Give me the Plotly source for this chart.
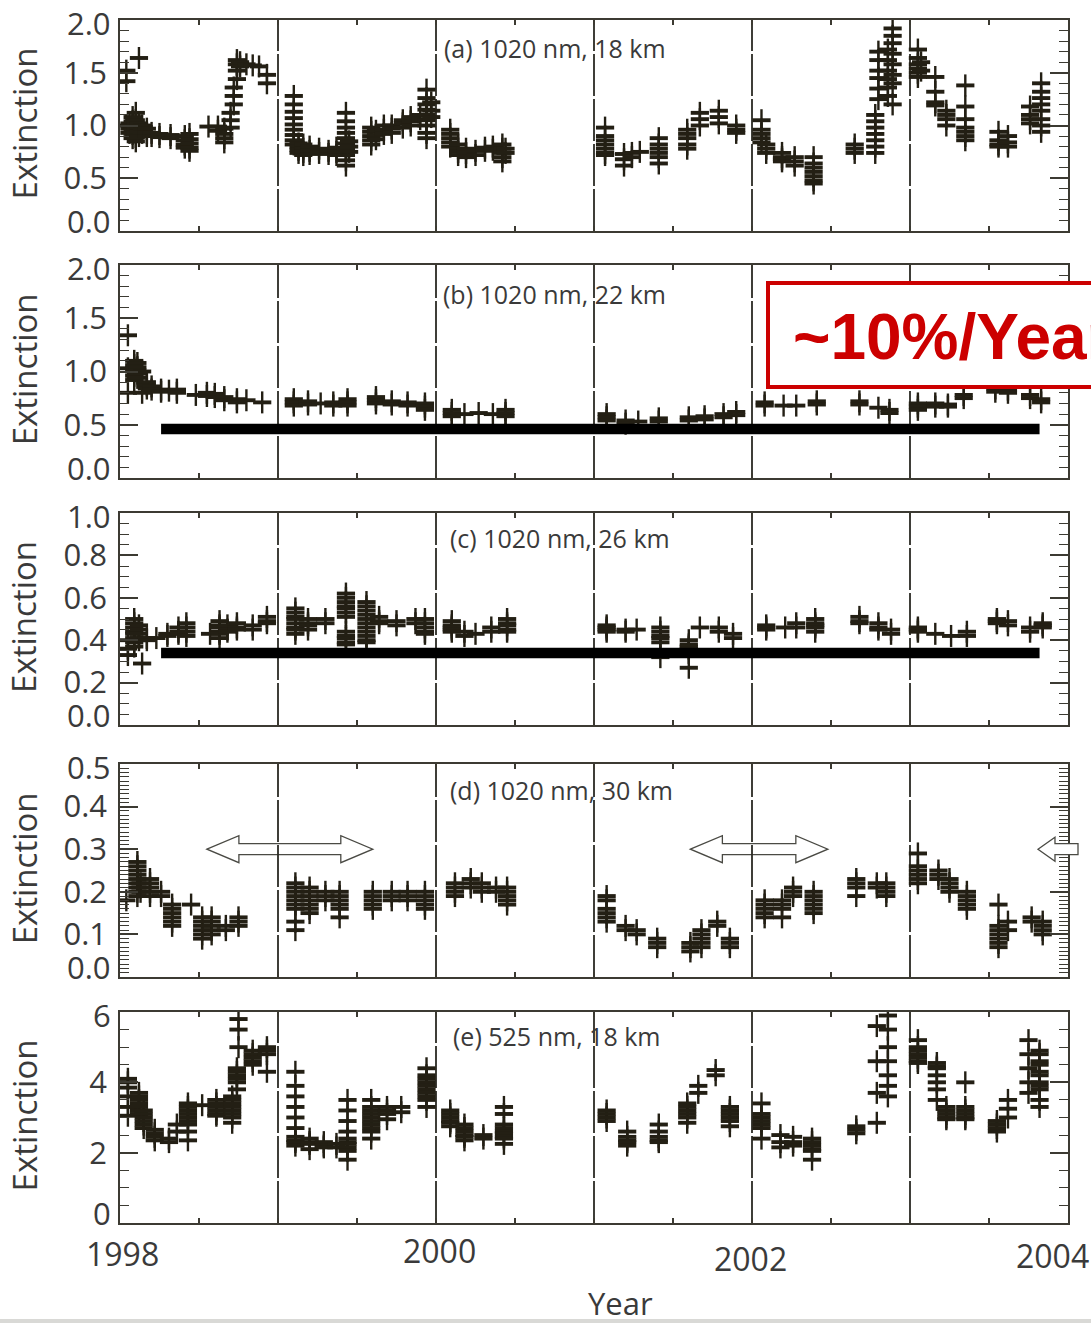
import plotly.graph_objects as go

# ---------------- data: extinction retrievals (x1e-4 /km) ----------------
# each date carries the list of profile values retrieved around that date

a_year = [1998.04, 1998.06, 1998.08, 1998.10, 1998.12, 1998.14, 1998.17, 1998.20, 1998.25, 1998.32,
          1998.41, 1998.44, 1998.56, 1998.62, 1998.66, 1998.70, 1998.72, 1998.74, 1998.76, 1998.80,
          1998.84, 1998.88, 1998.93,
          1999.10, 1999.13, 1999.16, 1999.20, 1999.26, 1999.32, 1999.37, 1999.43, 1999.45, 1999.59,
          1999.62, 1999.67, 1999.72, 1999.79, 1999.84, 1999.90, 1999.94, 1999.97,
          2000.09, 2000.14, 2000.19, 2000.25, 2000.31, 2000.36, 2000.42, 2000.44,
          2001.07, 2001.19, 2001.24, 2001.29, 2001.41, 2001.59, 2001.67, 2001.79, 2001.90,
          2002.06, 2002.09, 2002.19, 2002.27, 2002.39, 2002.65, 2002.78, 2002.80, 2002.86, 2002.89,
          2003.05, 2003.07, 2003.16, 2003.23, 2003.35, 2003.56, 2003.62, 2003.76, 2003.83]
a_ext = [[1.42, 1.52, 1.00], [1.02, 0.97, 0.93], [1.08, 1.04, 1.00, 0.96, 0.92, 0.88],
         [1.12, 1.05, 1.01, 0.97, 0.93, 0.89, 0.85], [1.64, 1.02, 0.98, 0.94, 0.90], [1.00, 0.96, 0.93],
         [0.97, 0.93, 0.90], [0.93, 0.90], [0.92, 0.89], [0.91, 0.88],
         [0.90, 0.86, 0.82, 0.79], [0.92, 0.87, 0.83, 0.79, 0.76], [0.99], [0.99, 0.95],
         [0.97, 0.92, 0.88, 0.84], [0.98, 1.05, 1.12], [1.20, 1.28, 1.36], [1.44, 1.52, 1.58, 1.62],
         [1.60, 1.56], [1.58], [1.57], [1.56], [1.48, 1.40],
         [1.28, 1.20, 1.13, 1.07, 1.01, 0.96, 0.91, 0.86, 0.82], [0.83, 0.80, 0.77, 0.74],
         [0.82, 0.78, 0.75, 0.72], [0.80, 0.76, 0.73], [0.78, 0.74], [0.76, 0.73], [0.79, 0.75, 0.72],
         [1.12, 1.04, 0.98, 0.93, 0.88, 0.83, 0.78, 0.72, 0.67, 0.62], [0.85, 0.80, 0.75],
         [0.98, 0.94, 0.90, 0.86, 0.82], [0.95, 0.91, 0.87], [1.00, 0.96, 0.92], [1.00, 0.97, 0.93],
         [1.05, 1.02, 0.98], [1.08, 1.04, 1.00], [1.10, 1.06],
         [1.34, 1.26, 1.20, 1.15, 1.10, 1.05, 1.00, 0.93, 0.88], [1.22, 1.14, 1.08],
         [0.96, 0.92, 0.88, 0.84, 0.80], [0.82, 0.78, 0.75, 0.72], [0.78, 0.74, 0.70], [0.76, 0.72],
         [0.79, 0.76], [0.80, 0.77], [0.82, 0.78, 0.74, 0.70, 0.66], [0.78, 0.74],
         [0.98, 0.90, 0.86, 0.82, 0.78, 0.74, 0.72], [0.73, 0.68, 0.62], [0.74, 0.70], [0.75],
         [0.88, 0.82, 0.78, 0.74, 0.70, 0.64], [0.96, 0.92, 0.88, 0.82, 0.78], [1.12, 1.06, 1.00],
         [1.14, 1.08, 1.02], [1.00, 0.96, 0.93],
         [1.05, 0.96, 0.92, 0.88, 0.84], [0.82, 0.78, 0.74], [0.74, 0.70, 0.68, 0.66], [0.70, 0.66, 0.62],
         [0.70, 0.64, 0.60, 0.56, 0.52, 0.48, 0.45], [0.82, 0.78, 0.74],
         [1.10, 1.04, 0.98, 0.92, 0.86, 0.80, 0.74], [1.25, 1.35, 1.45, 1.52, 1.62, 1.70],
         [1.72, 1.62, 1.52, 1.44, 1.36, 1.28], [1.92, 1.85, 1.78, 1.68, 1.58, 1.48, 1.40, 1.20],
         [1.72, 1.64, 1.58, 1.54, 1.50, 1.46], [1.60, 1.52], [1.46, 1.32, 1.22, 1.19],
         [1.14, 1.10, 1.06, 1.00], [1.38, 1.18, 1.06, 0.98, 0.94, 0.90, 0.86], [0.94, 0.86, 0.82, 0.80],
         [0.90, 0.84, 0.80], [1.18, 1.10, 1.06, 1.02], [1.40, 1.32, 1.26, 1.20, 1.14, 1.06, 1.00, 0.94]]

b_year = [1998.05, 1998.09, 1998.11, 1998.14, 1998.17, 1998.20, 1998.26, 1998.31, 1998.36, 1998.48,
          1998.55, 1998.60, 1998.66, 1998.74, 1998.80, 1998.90,
          1999.10, 1999.19, 1999.27, 1999.35, 1999.44, 1999.62, 1999.72, 1999.82, 1999.93,
          2000.10, 2000.18, 2000.27, 2000.36, 2000.44,
          2001.08, 2001.20, 2001.28, 2001.41, 2001.60, 2001.70, 2001.82, 2001.90,
          2002.08, 2002.20, 2002.28, 2002.41, 2002.68, 2002.80, 2002.87,
          2003.05, 2003.16, 2003.24, 2003.34, 2003.54, 2003.62, 2003.76, 2003.83]
b_ext = [[1.34, 1.03, 0.80], [1.10, 1.06, 1.03, 1.00, 0.96, 0.92], [1.08, 1.04, 1.01, 0.98, 0.94],
         [0.80, 1.00], [0.90, 0.87, 0.84], [0.86, 0.83], [0.83, 0.81], [0.82], [0.83, 0.80], [0.78],
         [0.80, 0.77], [0.79, 0.76], [0.76, 0.73], [0.74, 0.71], [0.73], [0.71],
         [0.74, 0.71, 0.68], [0.72, 0.69], [0.70], [0.71, 0.68], [0.74, 0.71, 0.68],
         [0.76, 0.73, 0.70], [0.72, 0.69], [0.71, 0.68], [0.70, 0.67, 0.64],
         [0.64, 0.61, 0.58], [0.60], [0.61], [0.60], [0.64, 0.61, 0.58],
         [0.60, 0.57, 0.54], [0.54, 0.51], [0.53], [0.56, 0.53], [0.57, 0.54], [0.58, 0.55],
         [0.60, 0.57], [0.62, 0.59],
         [0.71, 0.68], [0.68], [0.68], [0.72, 0.69], [0.72, 0.69], [0.66], [0.64, 0.61],
         [0.70, 0.67, 0.64], [0.70, 0.67], [0.69, 0.67], [0.78, 0.75], [0.84, 0.81], [0.83, 0.80],
         [0.78, 0.75], [0.74, 0.71]]

c_year = [1998.05, 1998.09, 1998.12, 1998.14, 1998.17, 1998.23, 1998.30, 1998.37, 1998.42, 1998.57,
          1998.63, 1998.68, 1998.74, 1998.84, 1998.93,
          1999.11, 1999.19, 1999.30, 1999.43, 1999.56, 1999.64, 1999.75, 1999.87, 1999.93,
          2000.10, 2000.18, 2000.25, 2000.35, 2000.45,
          2001.08, 2001.20, 2001.27, 2001.42, 2001.60, 2001.67, 2001.79, 2001.88,
          2002.09, 2002.21, 2002.28, 2002.40, 2002.68, 2002.80, 2002.88,
          2003.05, 2003.16, 2003.26, 2003.36, 2003.55, 2003.62, 2003.76, 2003.84]
c_ext = [[0.40, 0.36, 0.33], [0.50, 0.48, 0.46, 0.44, 0.43, 0.41, 0.39, 0.37], [0.47, 0.45, 0.43, 0.41, 0.40],
         [0.29], [0.41, 0.40], [0.41], [0.43, 0.42], [0.46, 0.44, 0.43], [0.48, 0.46, 0.44, 0.42], [0.43],
         [0.49, 0.47, 0.46, 0.44, 0.43, 0.41], [0.47, 0.45, 0.44], [0.48, 0.46, 0.45], [0.47, 0.45],
         [0.51, 0.49, 0.48],
         [0.55, 0.53, 0.51, 0.50, 0.48, 0.46, 0.45, 0.43], [0.50, 0.48, 0.47, 0.45], [0.50, 0.48],
         [0.62, 0.60, 0.58, 0.56, 0.55, 0.53, 0.51, 0.44, 0.42, 0.41, 0.39, 0.38],
         [0.58, 0.56, 0.54, 0.52, 0.50, 0.48, 0.46, 0.44, 0.42, 0.40, 0.39],
         [0.51, 0.49, 0.48], [0.49, 0.47], [0.50, 0.48], [0.50, 0.48, 0.46, 0.44, 0.43],
         [0.49, 0.47, 0.46, 0.45, 0.44], [0.44, 0.42], [0.43], [0.46, 0.44], [0.50, 0.48, 0.47, 0.45, 0.44],
         [0.47, 0.46, 0.45, 0.44], [0.45, 0.44], [0.45], [0.46, 0.44, 0.42, 0.41, 0.39, 0.32],
         [0.40, 0.38, 0.37, 0.36, 0.34, 0.27], [0.46], [0.46, 0.44], [0.43, 0.41],
         [0.47, 0.46, 0.45], [0.46], [0.48, 0.46], [0.50, 0.48, 0.47, 0.46, 0.44], [0.51, 0.49, 0.48],
         [0.48, 0.46, 0.45], [0.45, 0.43],
         [0.46, 0.45, 0.44], [0.43], [0.42], [0.44, 0.42], [0.50, 0.49, 0.48], [0.49, 0.47], [0.46, 0.44],
         [0.48, 0.47, 0.46]]

d_year = [1998.04, 1998.11, 1998.13, 1998.19, 1998.26, 1998.33, 1998.45, 1998.52, 1998.58, 1998.67,
          1998.75,
          1999.11, 1999.20, 1999.30, 1999.39, 1999.60, 1999.72, 1999.82, 1999.93,
          2000.12, 2000.22, 2000.29, 2000.38, 2000.45,
          2001.08, 2001.20, 2001.27, 2001.40, 2001.61, 2001.68, 2001.78, 2001.86,
          2002.08, 2002.19, 2002.26, 2002.39, 2002.66, 2002.79, 2002.85,
          2003.05, 2003.18, 2003.25, 2003.36, 2003.56, 2003.62, 2003.77, 2003.84]
d_ext = [[0.18], [0.27, 0.26, 0.25, 0.24, 0.23, 0.22, 0.21, 0.20, 0.19], [0.22, 0.21, 0.20],
         [0.23, 0.22, 0.21, 0.20, 0.19], [0.20, 0.19], [0.17, 0.16, 0.15, 0.14, 0.13, 0.12], [0.17],
         [0.14, 0.13, 0.12, 0.11, 0.10, 0.09], [0.14, 0.13, 0.12, 0.11, 0.10], [0.12, 0.11],
         [0.14, 0.13, 0.12],
         [0.22, 0.21, 0.20, 0.19, 0.18, 0.17, 0.16, 0.13, 0.11], [0.21, 0.20, 0.19, 0.18, 0.17, 0.16, 0.15],
         [0.20, 0.19, 0.18], [0.20, 0.19, 0.18, 0.17, 0.16, 0.14], [0.20, 0.19, 0.18, 0.17, 0.16],
         [0.20, 0.19, 0.18], [0.20, 0.19, 0.18], [0.20, 0.19, 0.18, 0.17, 0.16],
         [0.22, 0.21, 0.20, 0.19], [0.23, 0.22, 0.21], [0.22, 0.21, 0.20], [0.21, 0.20],
         [0.21, 0.20, 0.19, 0.18, 0.17],
         [0.19, 0.18, 0.16, 0.15, 0.14, 0.13], [0.12, 0.11], [0.11, 0.10], [0.09, 0.08, 0.07],
         [0.08, 0.07, 0.06], [0.11, 0.10, 0.09, 0.08, 0.07], [0.13, 0.12], [0.09, 0.08, 0.07],
         [0.18, 0.17, 0.16, 0.15, 0.14], [0.18, 0.17, 0.16, 0.14], [0.21, 0.20, 0.19],
         [0.20, 0.19, 0.18, 0.17, 0.16, 0.15], [0.23, 0.22, 0.21, 0.19], [0.22, 0.21],
         [0.22, 0.21, 0.20, 0.19],
         [0.29, 0.26, 0.25, 0.24, 0.23, 0.22], [0.25, 0.24, 0.23], [0.23, 0.22, 0.21, 0.20],
         [0.20, 0.19, 0.18, 0.17, 0.16], [0.17, 0.12, 0.11, 0.10, 0.09, 0.08, 0.07], [0.13, 0.11],
         [0.14, 0.13], [0.13, 0.12, 0.11, 0.10]]

e_year = [1998.05, 1998.12, 1998.15, 1998.22, 1998.31, 1998.36, 1998.43, 1998.52, 1998.61, 1998.71,
          1998.74, 1998.75, 1998.84, 1998.93,
          1999.11, 1999.20, 1999.29, 1999.37, 1999.44, 1999.59, 1999.69, 1999.78, 1999.94,
          2000.09, 2000.18, 2000.30, 2000.43,
          2001.08, 2001.21, 2001.41, 2001.59, 2001.66, 2001.77, 2001.86,
          2002.06, 2002.18, 2002.26, 2002.38, 2002.66, 2002.79, 2002.86,
          2003.05, 2003.17, 2003.23, 2003.35, 2003.55, 2003.62, 2003.75, 2003.82]
e_ext = [[4.10, 4.00, 3.85, 3.60, 3.30, 3.05], [3.70, 3.60, 3.50, 3.40, 3.30, 3.20, 3.10],
         [3.20, 3.10, 3.00, 2.90, 2.80, 2.70], [2.65, 2.55, 2.45, 2.35], [2.40, 2.30], [2.80, 2.60],
         [3.40, 3.30, 3.20, 3.10, 3.00, 2.90, 2.80, 2.60, 2.35], [3.35],
         [3.50, 3.40, 3.30, 3.20, 3.10, 3.05], [3.60, 3.50, 3.40, 3.30, 3.20, 3.10, 3.00, 2.85],
         [4.40, 4.30, 4.20, 4.10, 4.00, 3.80], [5.80, 5.50, 5.00], [4.90, 4.80, 4.70, 4.60, 4.50],
         [5.00, 4.90, 4.80, 4.30],
         [4.30, 3.90, 3.60, 3.30, 3.00, 2.70, 2.45, 2.35, 2.30, 2.20], [2.40, 2.30, 2.25, 2.10],
         [2.30, 2.20, 2.15], [2.25, 2.15], [3.50, 3.20, 2.90, 2.60, 2.40, 2.30, 2.25, 2.15, 2.05, 1.80],
         [3.50, 3.30, 3.20, 3.10, 3.00, 2.90, 2.80, 2.70, 2.60, 2.40], [3.30, 3.20, 3.10, 2.95],
         [3.30, 3.15], [4.40, 4.20, 4.10, 4.00, 3.90, 3.80, 3.70, 3.60, 3.50, 3.30],
         [3.20, 3.10, 3.00, 2.90, 2.85, 2.75], [2.80, 2.70, 2.60, 2.50, 2.45, 2.35], [2.50, 2.40],
         [3.30, 3.10, 2.80, 2.70, 2.60, 2.55, 2.45, 2.40, 2.25],
         [3.20, 3.10, 3.00, 2.90], [2.60, 2.45, 2.35, 2.30, 2.20], [2.80, 2.60, 2.45, 2.35, 2.30],
         [3.40, 3.30, 3.20, 3.10, 3.00, 2.85], [3.90, 3.70], [4.35, 4.20], [3.30, 3.20, 3.10, 3.00, 2.90, 2.75],
         [3.40, 3.10, 3.00, 2.90, 2.80, 2.70, 2.40], [2.50, 2.30, 2.15], [2.45, 2.30, 2.20],
         [2.40, 2.30, 2.20, 2.10, 2.05, 1.80], [2.75, 2.65, 2.55], [2.85, 3.70, 4.60, 5.60],
         [5.90, 5.50, 5.00, 4.60, 4.20, 3.90, 3.60],
         [5.20, 5.00, 4.90, 4.80, 4.70, 4.60, 4.55], [4.55, 4.45, 4.40, 4.20, 4.00, 3.80, 3.50],
         [3.30, 3.20, 3.10, 3.00, 2.95], [4.00, 3.30, 3.20, 3.10, 3.00, 2.95], [2.90, 2.80, 2.70, 2.60],
         [3.50, 3.25, 3.00], [5.20, 4.80, 4.40, 4.00, 3.70],
         [4.90, 4.80, 4.60, 4.50, 4.30, 4.20, 4.00, 3.90, 3.80, 3.50, 3.30]]

panel_labels = ["(a) 1020 nm, 18 km", "(b) 1020 nm, 22 km", "(c) 1020 nm, 26 km",
                "(d) 1020 nm, 30 km", "(e) 525 nm, 18 km"]
y_ranges = [(0, 2.0), (0, 2.0), (0, 1.0), (0, 0.5), (0, 6)]
y_ticks = [[0.0, 0.5, 1.0, 1.5, 2.0], [0.0, 0.5, 1.0, 1.5, 2.0], [0.0, 0.2, 0.4, 0.6, 0.8, 1.0],
           [0.0, 0.1, 0.2, 0.3, 0.4, 0.5], [0, 2, 4, 6]]
y_minor = [0.1, 0.1, 0.05, 0.01, 0.5]
y_format = ["{:.1f}", "{:.1f}", "{:.1f}", "{:.1f}", "{:d}"]
year_lines = [1999, 2000, 2001, 2002, 2003]
year_labels = [1998, 2000, 2002, 2004]

# fitted background levels marked in panels (b) and (c)
trend_span = (1998.26, 2003.82)
trend_level_b = 0.46
trend_level_c = 0.34
trend_text = "~10%/Year"

# periods indicated by open arrows in panel (d)
arrow_spans = [(1998.55, 1999.60), (2001.61, 2002.48)]
arrow_open_start = 2003.81
arrow_level = 0.30

# ---------------- layout geometry (pixels) ----------------
W, H = 1091, 1323
ML, MR, MT, MB = 120, 23, 20, 100
plot_w = W - ML - MR
plot_h = H - MT - MB
panel_px = [(20, 231), (265, 478), (513, 725), (764, 977), (1012, 1223)]
label_dom_y = [0.867, 0.864, 0.882, 0.878, 0.886]
label_left_px = [442, 441, 448, 448, 451]

INK = "#231f14"
FRAME = "#3c3a32"
TXT = "#3a3a3a"
FONT = "Open Sans"
TICK_SIZE = 31
STANDOFF = 5


def paper_y(py):
    return (H - MB - py) / plot_h


def paper_x_year(yr):
    return (yr - 1998) / 6.0


def suffix(n):
    return "" if n == 1 else str(n)


fig = go.Figure()
panels = [(a_year, a_ext), (b_year, b_ext), (c_year, c_ext), (d_year, d_ext), (e_year, e_ext)]

shapes = []
annotations = []
axes = {}

for i, (years, groups) in enumerate(panels):
    s = suffix(i + 1)
    xs, ys = [], []
    for yr, vals in zip(years, groups):
        for v in vals:
            xs.append(yr)
            ys.append(v)
    top, bot = panel_px[i]
    lo, hi = y_ranges[i]
    half_h = 11 * (hi - lo) / (bot - top)
    # each retrieval drawn as a "+": short thick horizontal bar with a taller vertical bar
    fig.add_trace(go.Scatter(
        x=xs, y=ys, mode="markers", xaxis=f"x{s}", yaxis=f"y{s}",
        marker=dict(symbol="line-ew", size=13, color=INK, line=dict(color=INK, width=3.9)),
        error_y=dict(type="constant", value=half_h, thickness=2.4, width=0, color=INK),
        showlegend=False, hoverinfo="x+y",
    ))

    fmt = y_format[i]
    ends = (y_ticks[i][0], y_ticks[i][-1])
    ticktext = ["" if v in ends else fmt.format(v) for v in y_ticks[i]]
    axes[f"yaxis{s}"] = dict(
        domain=[paper_y(bot), paper_y(top)], anchor=f"x{s}", range=[lo, hi], automargin=False,
        tickmode="array", tickvals=y_ticks[i], ticktext=ticktext, ticklabeloverflow="allow",
        ticks="inside", ticklen=18, tickwidth=1.5, tickcolor=FRAME,
        minor=dict(ticks="inside", dtick=y_minor[i], tick0=0, ticklen=9, tickwidth=1.2, tickcolor=FRAME),
        showline=True, linecolor=FRAME, linewidth=1.5, mirror="ticks", showgrid=False,
        zeroline=False, tickfont=dict(family=FONT, size=TICK_SIZE, color=TXT), ticklabelstandoff=STANDOFF,
    )
    axes[f"xaxis{s}"] = dict(
        domain=[0, 1], anchor=f"y{s}", range=[1998, 2004], automargin=False,
        tickvals=[1998.5, 1999, 1999.5, 2000, 2000.5, 2001, 2001.5, 2002, 2002.5, 2003, 2003.5],
        showticklabels=False, ticks="inside", ticklen=5, tickwidth=1.5, tickcolor=FRAME,
        showline=True, linecolor=FRAME, linewidth=1.5, mirror="ticks", showgrid=False, zeroline=False,
    )

    # end labels are nudged inward: the zero label sits above its tick, the top one just below
    for val, dy in zip(ends, (10, -3)):
        annotations.append(dict(text=fmt.format(val), xref="paper", yref=f"y{s}", x=0,
                                y=val, xanchor="right", yanchor="middle", xshift=-STANDOFF - 2,
                                yshift=dy, showarrow=False,
                                font=dict(family=FONT, size=TICK_SIZE, color=TXT)))

    for yl in year_lines:
        shapes.append(dict(type="line", xref=f"x{s}", yref=f"y{s}", x0=yl, x1=yl, y0=lo, y1=hi,
                           line=dict(color="#2b2a24", width=1.8, dash="42px,3px"), layer="below"))

    annotations.append(dict(text=panel_labels[i], xref="paper", yref=f"y{s} domain",
                            x=(label_left_px[i] - ML) / plot_w, y=label_dom_y[i],
                            xanchor="left", yanchor="middle", showarrow=False,
                            font=dict(family=FONT, size=25, color=TXT)))
    annotations.append(dict(text="Extinction", xref="paper", yref=f"y{s} domain",
                            x=(24 - ML) / plot_w, y=0.51, textangle=-90, xanchor="center",
                            yanchor="middle", showarrow=False,
                            font=dict(family=FONT, size=33, color=TXT)))

# trend reference bars
shapes.append(dict(type="line", xref="x2", yref="y2", x0=trend_span[0], x1=trend_span[1],
                   y0=trend_level_b, y1=trend_level_b, line=dict(color="black", width=10.5)))
shapes.append(dict(type="line", xref="x3", yref="y3", x0=trend_span[0], x1=trend_span[1],
                   y0=trend_level_c, y1=trend_level_c, line=dict(color="black", width=10.5)))

# open double arrows in panel (d)
d_top, d_bot = panel_px[3]
d_h = d_bot - d_top
ay = arrow_level / 0.5
hh = 13.5 / d_h
sh = 5.5 / d_h
hl = 32.0 / plot_w


def double_arrow(x0, x1):
    return (f"M {x0},{ay} L {x0 + hl},{ay + hh} L {x0 + hl},{ay + sh} L {x1 - hl},{ay + sh} "
            f"L {x1 - hl},{ay + hh} L {x1},{ay} L {x1 - hl},{ay - hh} L {x1 - hl},{ay - sh} "
            f"L {x0 + hl},{ay - sh} L {x0 + hl},{ay - hh} Z")


arrow_shapes = []
for s0, s1 in arrow_spans:
    arrow_shapes.append(dict(type="path", xref="paper", yref="y4 domain",
                             path=double_arrow(paper_x_year(s0), paper_x_year(s1)),
                             line=dict(color="#4a4a44", width=1.3), fillcolor="white", layer="below"))
tx = paper_x_year(arrow_open_start)
hl3, hh3 = 17.0 / plot_w, 12.0 / d_h
xe = (1078 - ML) / plot_w
arrow_shapes.append(dict(type="path", xref="paper", yref="y4 domain",
                         path=(f"M {tx},{ay} L {tx + hl3},{ay + hh3} L {tx + hl3},{ay + sh} L {xe},{ay + sh} "
                               f"L {xe},{ay - sh} L {tx + hl3},{ay - sh} L {tx + hl3},{ay - hh3} Z"),
                         line=dict(color="#4a4a44", width=1.3), fillcolor="white", layer="above"))
shapes = arrow_shapes + shapes

# highlighted trend box
shapes.append(dict(type="rect", xref="paper", yref="paper",
                   x0=(768 - ML) / plot_w, x1=(1140 - ML) / plot_w,
                   y0=paper_y(387), y1=paper_y(283),
                   line=dict(color="#cc0000", width=4), fillcolor="white", layer="above"))
annotations.append(dict(text=f"<b>{trend_text}</b>", xref="paper", yref="paper",
                        x=(791 - ML) / plot_w, y=paper_y(337), xanchor="left", yanchor="middle",
                        showarrow=False, font=dict(family="Liberation Sans", size=64, color="#cc0000")))

# year tick labels and axis title
label_dy = [0, -3, 5, 2]
label_dx = [2, 3, -2, -16]
for yl, dy, dx in zip(year_labels, label_dy, label_dx):
    annotations.append(dict(text=str(yl), xref="x5", yref="paper", x=yl, y=paper_y(1253 + dy),
                            xshift=dx, xanchor="center", yanchor="middle", showarrow=False,
                            font=dict(family=FONT, size=32, color=TXT)))
annotations.append(dict(text="Year", xref="paper", yref="paper", x=(620 - ML) / plot_w,
                        y=paper_y(1303), xanchor="center", yanchor="middle", showarrow=False,
                        font=dict(family=FONT, size=31, color=TXT)))

# light strip along the lower page edge
shapes.append(dict(type="rect", xref="paper", yref="paper", x0=-ML / plot_w, x1=(W - ML) / plot_w,
                   y0=paper_y(1323), y1=paper_y(1319), line=dict(width=0), fillcolor="#d9d9d6"))

fig.update_layout(
    width=W, height=H, margin=dict(l=ML, r=MR, t=MT, b=MB, autoexpand=False),
    paper_bgcolor="white", plot_bgcolor="white",
    shapes=shapes, annotations=annotations, showlegend=False, **axes,
)

fig.write_html("out.html")
